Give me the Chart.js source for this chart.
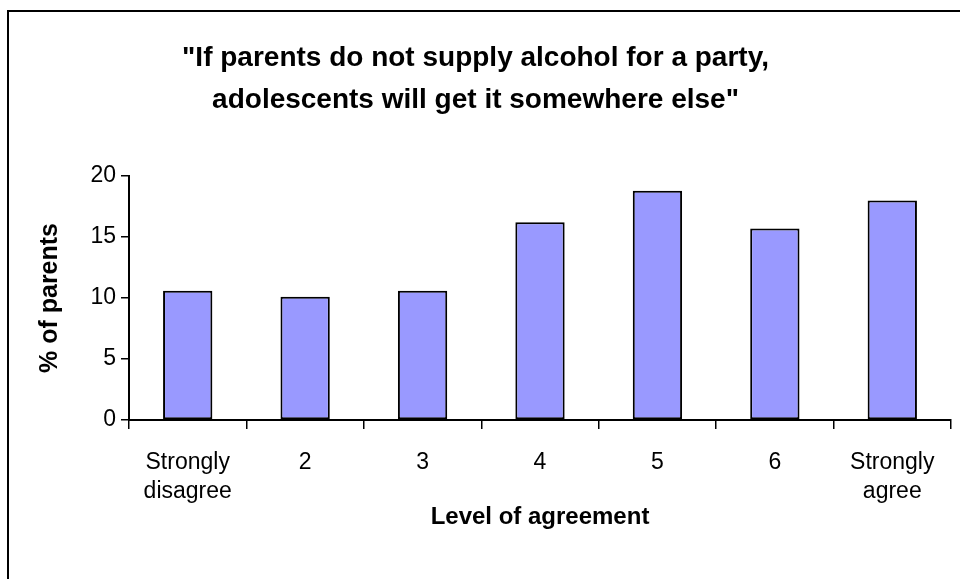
<!DOCTYPE html>
<html>
<head>
<meta charset="utf-8">
<script src="https://cdn.jsdelivr.net/npm/chart.js@4.4.0/dist/chart.umd.min.js"></script>
<style>
html,body{margin:0;padding:0;background:#fff;}
#wrap{width:960px;height:579px;position:relative;}
</style>
</head>
<body>
<div id="wrap"><canvas id="c" width="960" height="579"></canvas></div>
<script>
const categories = [["Strongly","disagree"],"2","3","4","5","6",["Strongly","agree"]];
const percentParents = [10.6, 10.1, 10.6, 16.2, 18.8, 15.7, 18.0];
const yTicks = [0, 5, 10, 15, 20];
const titleLines = ['"If parents do not supply alcohol for a party,', 'adolescents will get it somewhere else"'];
const xTitle = 'Level of agreement';
const yTitle = '% of parents';

const FONT = 'Liberation Sans, Arial, sans-serif';

const framePlugin = {
  id: 'frame',
  beforeDraw(chart) {
    const ctx = chart.ctx;
    ctx.save();
    ctx.fillStyle = '#fff';
    ctx.fillRect(0, 0, chart.width, chart.height);
    ctx.strokeStyle = '#000';
    ctx.lineWidth = 2;
    ctx.beginPath();
    ctx.moveTo(8, chart.height);
    ctx.lineTo(8, 11);
    ctx.lineTo(chart.width, 11);
    ctx.stroke();
    ctx.restore();
  }
};

new Chart(document.getElementById('c'), {
  type: 'bar',
  data: {
    labels: categories,
    datasets: [{
      data: percentParents,
      backgroundColor: '#9999FF',
      borderColor: '#000',
      borderWidth: 2,
      borderSkipped: false,
      categoryPercentage: 1,
      barPercentage: 0.42
    }]
  },
  options: {
    responsive: false,
    animation: false,
    layout: { padding: { left: 0, right: 9, top: 0, bottom: 0 } },
    plugins: {
      legend: { display: false },
      tooltip: { enabled: false },
      title: {
        display: true,
        text: titleLines,
        color: '#000',
        font: { family: FONT, size: 28, weight: 'bold', lineHeight: 1.5 },
        padding: { top: 37, bottom: 55 }
      }
    },
    scales: {
      x: {
        afterFit(scale) { scale.height = 159; },
        grid: { offset: true, drawOnChartArea: false, color: '#000', tickColor: '#000', tickLength: 9, lineWidth: 1.5 },
        border: { color: '#000', width: 2 },
        ticks: {
          color: '#000', padding: 19, maxRotation: 0, autoSkip: false,
          font: { family: FONT, size: 23, lineHeight: 1.26 }
        },
        title: {
          display: true, text: xTitle, color: '#000',
          font: { family: FONT, size: 24, weight: 'bold', lineHeight: 1.2 },
          padding: { top: 0, bottom: 47 }
        }
      },
      y: {
        min: 0, max: 20,
        afterFit(scale) { scale.width = 129; },
        afterBuildTicks(scale) { scale.ticks = yTicks.map(v => ({ value: v })); },
        grid: { drawOnChartArea: false, color: '#000', tickColor: '#000', tickLength: 8, lineWidth: 1.5 },
        border: { color: '#000', width: 2 },
        ticks: {
          color: '#000', padding: 5,
          font: { family: FONT, size: 23 }
        },
        title: {
          display: true, text: yTitle, color: '#000',
          font: { family: FONT, size: 25, weight: 'bold', lineHeight: 1.2 },
          padding: { top: 35, bottom: 0 }
        }
      }
    }
  },
  plugins: [framePlugin]
});
</script>
</body>
</html>
